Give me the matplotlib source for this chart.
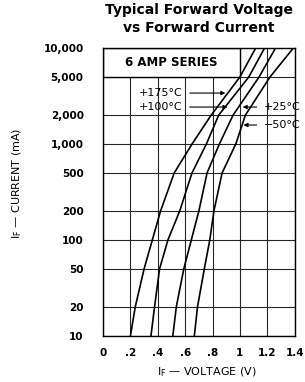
import matplotlib
matplotlib.use('Agg')
import matplotlib.pyplot as plt
from matplotlib.patches import Rectangle

current = [10, 20, 50, 100, 200, 500, 1000, 2000, 5000, 10000]
v_175 = [0.20, 0.235, 0.30, 0.36, 0.42, 0.52, 0.65, 0.79, 1.00, 1.115]
v_100 = [0.35, 0.376, 0.413, 0.474, 0.56, 0.65, 0.755, 0.845, 1.065, 1.18]
v_25 = [0.51, 0.535, 0.59, 0.645, 0.70, 0.76, 0.85, 0.95, 1.14, 1.26]
v_m50 = [0.667, 0.69, 0.74, 0.78, 0.81, 0.87, 0.97, 1.04, 1.22, 1.39]

x_ticks = [0, 0.2, 0.4, 0.6, 0.8, 1.0, 1.2, 1.4]
x_labels = ['0', '.2', '.4', '.6', '.8', '1', '1.2', '1.4']
y_labels = ['10', '20', '50', '100', '200', '500', '1,000', '2,000', '5,000', '10,000']

fig = plt.figure(figsize=(3.05, 3.82), dpi=100)
ax = fig.add_axes([0.338, 0.121, 0.628, 0.753])

ax.set_yscale('log')
ax.set_xlim(0, 1.4)
ax.set_ylim(10, 10000)
ax.set_xticks(x_ticks)
ax.set_xticklabels(x_labels, fontsize=7.5, fontweight='bold')
ax.set_yticks(current)
ax.set_yticklabels(y_labels, fontsize=7.5, fontweight='bold')
ax.minorticks_off()
ax.tick_params(axis='both', length=0)
ax.tick_params(axis='y', pad=14)
ax.tick_params(axis='x', pad=9)
ax.grid(True, color='0.15', lw=0.8)
ax.set_axisbelow(True)
for s in ax.spines.values():
    s.set_linewidth(1.0)
    s.set_color('black')

# "6 AMP SERIES" box
ax.add_patch(Rectangle((0, 5000), 1.0, 5000, facecolor='white',
                       edgecolor='black', lw=1.0, zorder=2))
ax.text(0.5, 7000, '6 AMP SERIES', ha='center', va='center',
        fontsize=8.5, fontweight='bold', zorder=3)

for v in [v_175, v_100, v_25, v_m50]:
    ax.plot(v, current, color='black', lw=1.2, zorder=4)

arrow = dict(arrowstyle='-|>', color='black', lw=0.8, mutation_scale=6,
             shrinkA=3, shrinkB=0)
ax.annotate('+175°C', xy=(0.894, 3400), xytext=(0.264, 3400), fontsize=8,
            va='center', ha='left', arrowprops=arrow, zorder=5)
ax.annotate('+100°C', xy=(0.91, 2430), xytext=(0.264, 2430), fontsize=8,
            va='center', ha='left', arrowprops=arrow, zorder=5)
ax.annotate('+25°C', xy=(1.02, 2430), xytext=(1.173, 2430), fontsize=8,
            va='center', ha='left', arrowprops=arrow, zorder=5,
            annotation_clip=False)
ax.annotate('−50°C', xy=(1.026, 1578), xytext=(1.173, 1578), fontsize=8,
            va='center', ha='left', arrowprops=arrow, zorder=5,
            annotation_clip=False)

fig.text(0.651, 0.992, 'Typical Forward Voltage\nvs Forward Current',
         ha='center', va='top', fontsize=10, fontweight='bold',
         linespacing=1.35)
fig.text(0.056, 0.521, r'I$_\mathregular{F}$ — CURRENT (mA)', rotation=90,
         ha='center', va='center', fontsize=8)
fig.text(0.679, 0.026, r'I$_\mathregular{F}$ — VOLTAGE (V)',
         ha='center', va='center', fontsize=8)

fig.savefig('out.png', dpi=100)
